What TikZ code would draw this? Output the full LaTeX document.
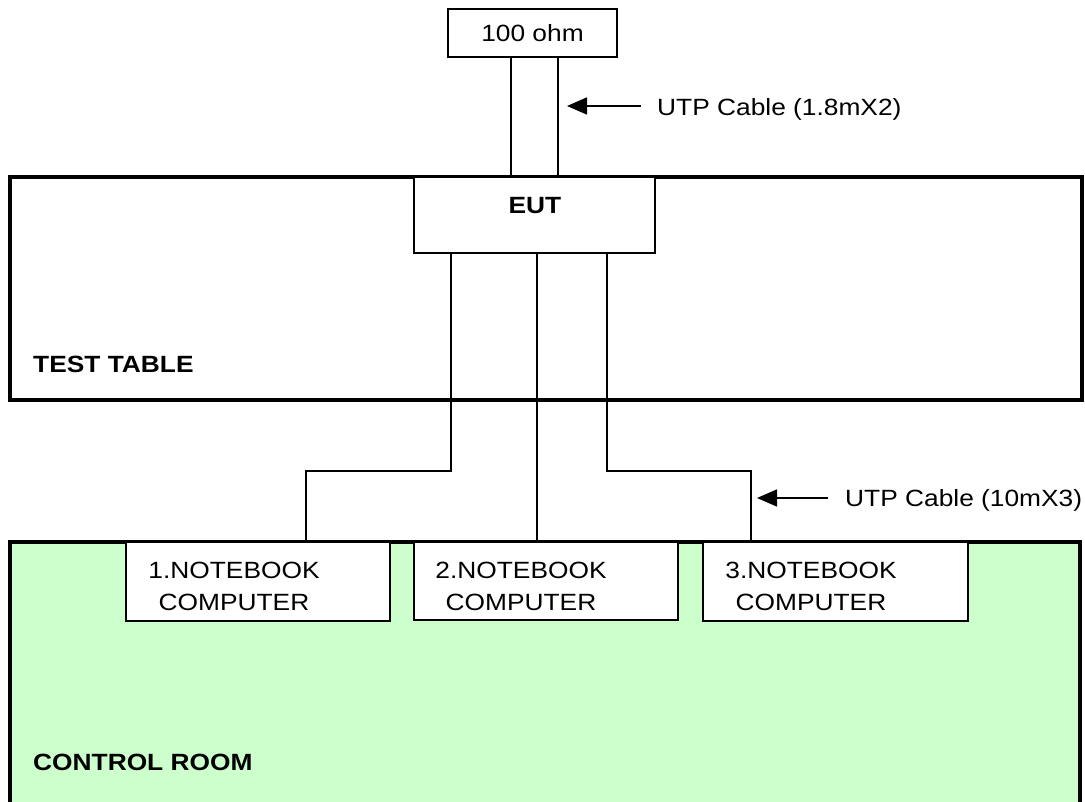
\documentclass[tikz,border=0pt]{standalone}
\usepackage{fontspec}
\setmainfont{Liberation Sans}[FakeStretch=1.12]
\usetikzlibrary{positioning,arrows.meta}
\definecolor{roomgreen}{RGB}{204,255,204}

\begin{document}
\begin{tikzpicture}[x=1pt,y=-1pt,
  txt/.style={font=\fontsize{23.5}{32}\selectfont,inner sep=0pt},
  boldtxt/.style={font=\fontsize{23.5}{32}\selectfont\bfseries,inner sep=0pt},
  wire/.style={line width=1.5pt},
  area/.style={draw,line width=3.5pt},
  unit/.style={draw,fill=white,line width=1.5pt,inner sep=0pt},
  >={Triangle[length=20pt,width=17pt]}]
\useasboundingbox (0,0) rectangle (1085,802);
% ---- rooms ----
\draw[area,fill=roomgreen] (10,542) rectangle (1080,830);
\draw[area] (10,177) rectangle (1082,400);
\node[boldtxt,anchor=base west] (tablelbl) at (33,373) {TEST TABLE};
\node[boldtxt,anchor=base west] (roomlbl) at (33,770) {CONTROL ROOM};
% ---- terminator and EUT ----
\node[unit,txt,minimum width=169,minimum height=48] (ohm) at (532.5,33) {100 ohm};
\node[unit,minimum width=241,minimum height=76] (eut) at (534.5,215) {};
\node[boldtxt] (eutlbl) at (535,206) {EUT};
% ---- notebooks ----
\node[unit,minimum width=264,minimum height=79] (nb1) at (258,581.5) {};
\node[unit,minimum width=264,minimum height=78] (nb2) at (546,581) {};
\node[unit,minimum width=265,minimum height=79] (nb3) at (835.5,581.5) {};
\node[txt,align=center] (nb1lbl) at (234,586) {1.NOTEBOOK\\COMPUTER};
\node[txt,align=center] (nb2lbl) at (521,586) {2.NOTEBOOK\\COMPUTER};
\node[txt,align=center] (nb3lbl) at (811,586) {3.NOTEBOOK\\COMPUTER};
% ---- cables ----
\draw[wire] (ohm.south -| 511,0) -- (eut.north -| 511,0);
\draw[wire] (ohm.south -| 558,0) -- (eut.north -| 558,0);
\draw[wire] (eut.south -| 451,0) -- (451,471) -| (nb1.north -| 306,0);
\draw[wire] (eut.south -| 537,0) -- (nb2.north -| 537,0);
\draw[wire] (eut.south -| 607,0) -- (607,471) -| (nb3.north -| 751,0);
% ---- cable notes ----
\coordinate (shorttail) at (641,106);
\coordinate (shorttip) at (567,106);
\draw[wire,->] (shorttail) -- (shorttip);
\node[txt,anchor=west] (shortlbl) at (657,109) {UTP Cable (1.8mX2)};
\coordinate (longtail) at (828,498);
\coordinate (longtip) at (757,498);
\draw[wire,->] (longtail) -- (longtip);
\node[txt,anchor=west] (longlbl) at (845,500) {UTP Cable (10mX3)};
\end{tikzpicture}
\end{document}
